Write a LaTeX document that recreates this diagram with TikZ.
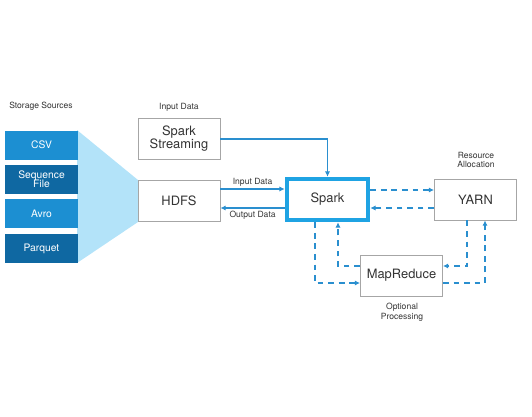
\documentclass[tikz,border=0pt]{standalone}
\usepackage{fontspec}
\setmainfont{TeX Gyre Heros}
\usetikzlibrary{calc, arrows.meta}
\definecolor{srclight}{HTML}{1C8FD2}
\definecolor{srcdark}{HTML}{0F68A2}
\definecolor{fanblue}{HTML}{B3E3F9}
\definecolor{linkblue}{HTML}{2A8FCF}
\definecolor{sparkblue}{HTML}{1FA3E3}
\tikzset{>={Latex[length=4.5pt,width=4.5pt]}}
\tikzset{
  box/.style={draw=gray!70, line width=0.8pt, fill=white, align=center, text=black!80,
    minimum width=2.46cm, minimum height=1.23cm, font=\fontsize{11}{12}\selectfont},
  srcbox/.style={text=white, align=center, minimum width=2.19cm, minimum height=0.87cm,
    inner sep=1pt, font=\fontsize{8.8}{9.5}\selectfont},
  caption/.style={font=\fontsize{7.3}{8.3}\selectfont, align=center, text=black!80},
  link/.style={linkblue, line width=1pt, ->},
  dlink/.style={linkblue, line width=1pt, ->, dash pattern=on 5pt off 4pt}
}
\begin{document}
\begin{tikzpicture}[x=0.03cm, y=-0.03cm]
\useasboundingbox (0,0) rectangle (532,416);
% storage sources
\fill[fanblue] (77,130)--(138,180)--(138,222)--(77,263)--cycle;
\node[srcbox, fill=srclight] (csv) at (41.5,145) {CSV};
\node[srcbox, fill=srcdark] (seqfile) at (41.5,179) {Sequence\\[-2pt]File};
\node[srcbox, fill=srclight] (avro) at (41.5,213.5) {Avro};
\node[srcbox, fill=srcdark] (parquet) at (41.5,248.5) {Parquet};
\node[caption] (srclabel) at (41,106) {Storage Sources};
% main boxes
\node[box] (streaming) at (179,139) {Spark\\[-1pt]Streaming};
\node[box] (hdfs) at (179,201) {HDFS};
\node[box, draw=sparkblue, line width=3.4pt, minimum width=2.45cm, minimum height=1.25cm] (spark) at (327.5,199.5) {Spark};
\node[box] (yarn) at (475.5,199.5) {YARN};
\node[box] (mapred) at (401.5,275.5) {MapReduce};
\node[caption] (inlabel) at (179,107) {Input Data};
\node[caption] (reslabel) at (476,160) {Resource\\Allocation};
\node[caption] (optlabel) at (402,312) {Optional\\Processing};
% dashed turning points
\coordinate (sparkout) at (315,0);
\coordinate (sparkin) at (338,0);
\coordinate (yarnout) at (467,0);
\coordinate (yarnin) at (485,0);
% solid links
\draw[link] (streaming.east) -| (spark.north);
\draw[link] ($(hdfs.east)+(0,-12)$) -- node[caption, above=-1.5pt]{Input Data} ($(spark.west)+(0,-10.5)$);
\draw[link] ($(spark.west)+(0,8.5)$) -- node[caption, below=-1.5pt]{Output Data} ($(hdfs.east)+(0,7)$);
% dashed links
\draw[dlink] ($(spark.east)+(0,-9.5)$) -- ($(yarn.west)+(0,-9.5)$);
\draw[dlink] ($(yarn.west)+(0,8.5)$) -- ($(spark.east)+(0,8.5)$);
\draw[dlink] (spark.south -| sparkout) |- ($(mapred.west)+(0,7.5)$);
\draw[dlink] ($(mapred.west)+(0,-9.5)$) -| (spark.south -| sparkin);
\draw[dlink] (yarn.south -| yarnout) |- ($(mapred.east)+(0,-9.5)$);
\draw[dlink] ($(mapred.east)+(0,7.5)$) -| (yarn.south -| yarnin);
\end{tikzpicture}
\end{document}
